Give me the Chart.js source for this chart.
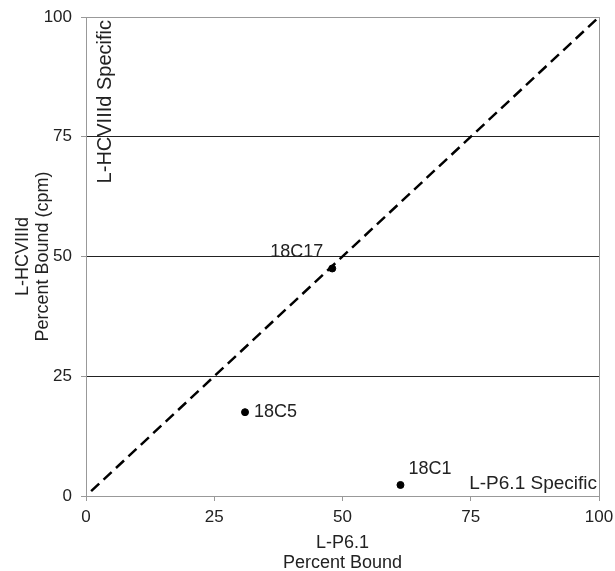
<!DOCTYPE html>
<html>
<head>
<meta charset="utf-8">
<script src="https://cdn.jsdelivr.net/npm/chart.js@4/dist/chart.umd.min.js"></script>
<style>
  html, body { margin: 0; padding: 0; background: #fff; }
  #wrap { width: 615px; height: 571px; }
</style>
</head>
<body>
<div id="wrap"><canvas id="chart" width="615" height="571"></canvas></div>
<script>
const cloneNames = ["18C17", "18C5", "18C1"];
const p61Bound = [48, 31, 61.3];
const hcvBound = [47.5, 17.5, 2.3];
const diagX = [1, 100];
const diagY = [1, 100];
const axisTicks = [0, 25, 50, 75, 100];

const FONT = "'Liberation Sans', Arial, sans-serif";

const labelPlugin = {
  id: "pointLabels",
  afterDatasetsDraw(chart) {
    const { ctx, scales: { x, y } } = chart;
    ctx.save();
    ctx.font = "18px " + FONT;
    ctx.fillStyle = "#222";
    ctx.textBaseline = "middle";
    // 18C17 sits above-left, others to the right
    const offsets = [
      { dx: -62, dy: -16 },
      { dx: 9, dy: 0 },
      { dx: 8, dy: -16 },
    ];
    ctx.textAlign = "left";
    cloneNames.forEach((name, i) => {
      const px = x.getPixelForValue(p61Bound[i]);
      const py = y.getPixelForValue(hcvBound[i]);
      ctx.fillText(name, px + offsets[i].dx, py + offsets[i].dy);
    });
    // region labels
    ctx.font = "19px " + FONT;
    ctx.textAlign = "right";
    ctx.textBaseline = "alphabetic";
    ctx.fillText("L-P6.1 Specific", x.right - 2, y.bottom - 7);
    ctx.translate(x.left + 25, y.top + 3);
    ctx.rotate(-Math.PI / 2);
    ctx.font = "20px " + FONT;
    ctx.fillText("L-HCVIIId Specific", 0, 0);
    ctx.restore();
  },
};

new Chart(document.getElementById("chart"), {
  type: "scatter",
  data: {
    datasets: [
      {
        data: diagX.map((v, i) => ({ x: v, y: diagY[i] })),
        showLine: true,
        borderColor: "#000",
        borderWidth: 2.5,
        borderDash: [11, 6],
        pointRadius: 0,
      },
      {
        data: p61Bound.map((v, i) => ({ x: v, y: hcvBound[i] })),
        backgroundColor: "#000",
        borderColor: "#000",
        pointRadius: 3.5,
      },
    ],
  },
  options: {
    responsive: false,
    animation: false,
    layout: { padding: { top: 17, right: 16, left: 1, bottom: 0 } },
    plugins: { legend: { display: false }, tooltip: { enabled: false } },
    scales: {
      x: {
        type: "linear",
        min: 0,
        max: 100,
        afterBuildTicks: (s) => { s.ticks = axisTicks.map((v) => ({ value: v })); },
        afterFit: (s) => {
          s.height = 75;
          s.paddingLeft = 0;
          s.paddingRight = 0;
        },
        border: { color: "#999", width: 1 },
        grid: {
          color: (c) => (c.tick && c.tick.value === 100 ? "#999" : "rgba(0,0,0,0)"),
          tickColor: "#999",
          tickLength: 5,
        },
        ticks: { color: "#222", font: { family: FONT, size: 17 }, padding: 6 },
        title: {
          display: true,
          text: ["L-P6.1", "Percent Bound"],
          color: "#222",
          font: { family: FONT, size: 18, lineHeight: 1.1 },
          padding: { top: 6, bottom: -2 },
        },
      },
      y: {
        type: "linear",
        min: 0,
        max: 100,
        afterBuildTicks: (s) => { s.ticks = axisTicks.map((v) => ({ value: v })); },
        afterFit: (s) => {
          s.width = 85;
          s.paddingTop = 0;
          s.paddingBottom = 0;
        },
        border: { color: "#999", width: 1 },
        grid: {
          color: (c) => {
            const v = c.tick && c.tick.value;
            if (v === 100) return "#999";
            if (v === 0) return "rgba(0,0,0,0)";
            return "#222";
          },
          tickColor: "#999",
          tickLength: 5,
        },
        ticks: { color: "#222", font: { family: FONT, size: 17 }, padding: 9 },
        title: {
          display: true,
          text: ["L-HCVIIId", "Percent Bound (cpm)"],
          color: "#222",
          font: { family: FONT, size: 18, lineHeight: 1.1 },
          padding: { top: 12, bottom: 0 },
        },
      },
    },
  },
  plugins: [labelPlugin],
});
</script>
</body>
</html>
